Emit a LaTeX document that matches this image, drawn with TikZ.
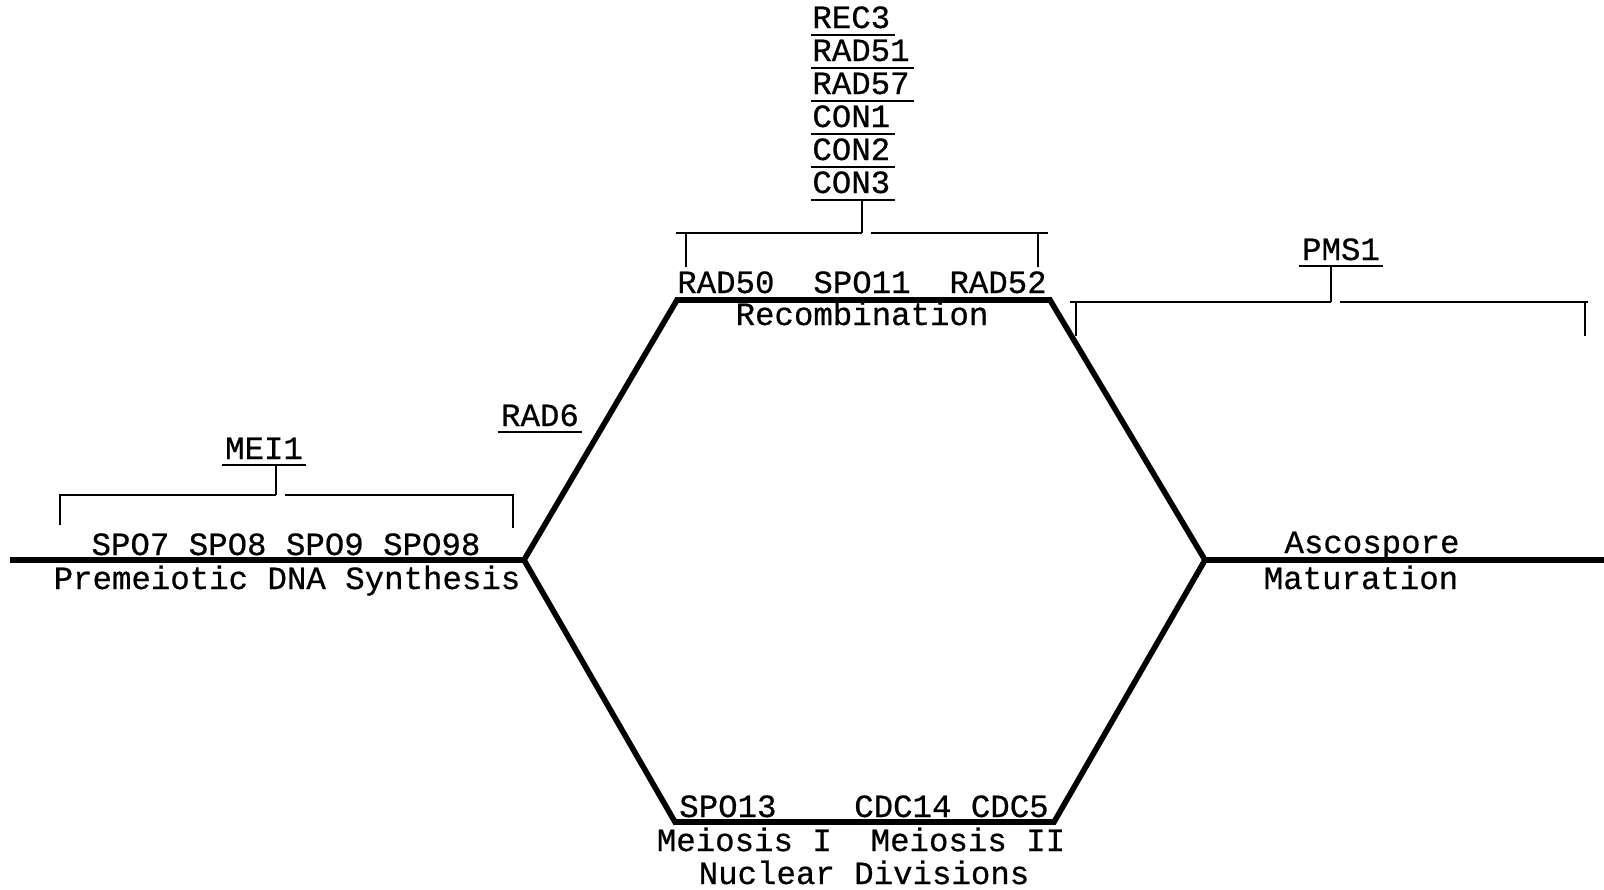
\documentclass[tikz,border=0pt]{standalone}
\usepackage{fontspec}
\setmainfont[FakeBold=0.6]{Liberation Mono}
\usetikzlibrary{calc}
\begin{document}
\begin{tikzpicture}[x=0.5pt,y=-0.5pt,
  lbl/.style={inner sep=0pt,anchor=base,font=\fontsize{16.2pt}{18pt}\selectfont},
  lblw/.style={lbl,anchor=base west},
  phase/.style={line width=2.8pt,line join=miter},
  brk/.style={line width=1.3pt},
  ul/.style={line width=1.1pt}]
\useasboundingbox (0,0) rectangle (1604,889);
% pathway
\coordinate (W) at (10,560);
\coordinate (L) at (524,560);
\coordinate (UL) at (677,300);
\coordinate (UR) at (1050,300);
\coordinate (R) at (1205,560);
\coordinate (E) at (1604,560);
\coordinate (LR) at (1054,822);
\coordinate (LL) at (675,822);
\draw[phase] (W) -- (L) -- (UL) -- (UR) -- (R) -- (E);
\draw[phase] (L) -- (LL) -- (LR) -- (R);
% left stage
\node[lbl] (spo7) at (286,555) {SPO7 SPO8 SPO9 SPO98};
\node[lbl] (premei) at (287,589) {Premeiotic DNA Synthesis};
\node[lbl] (mei1) at (264,459) {MEI1};
\draw[ul] ($(mei1.base west)+(-3,6)$) -- ($(mei1.base east)+(3,6)$);
\coordinate (m0) at (276,465);
\coordinate (m1) at (276,495);
\coordinate (mA) at (60,495);
\coordinate (mB) at (513,495);
\draw[brk] (m0) -- (m1);
\draw[brk] ($(mA)+(0,30)$) -- (mA) -- (m1);
\draw[brk] ($(m1)+(9,0)$) -- (mB) -- ($(mB)+(0,33)$);
% RAD6
\node[lbl] (rad6) at (540,426) {RAD6};
\draw[ul] ($(rad6.base west)+(-3,6)$) -- ($(rad6.base east)+(3,6)$);
% recombination stage
\node[lblw] (rec3) at (812,28) {REC3};
\node[lblw] (rad51) at (812,61) {RAD51};
\node[lblw] (rad57) at (812,94) {RAD57};
\node[lblw] (con1) at (812,127) {CON1};
\node[lblw] (con2) at (812,160) {CON2};
\node[lblw] (con3) at (812,193) {CON3};
\foreach \n in {rec3,rad51,rad57,con1,con2,con3}
  \draw[ul] ($(\n.base west)+(-1,7)$) -- ($(\n.base east)+(4,7)$);
\coordinate (r0) at (862,200);
\coordinate (r1) at (862,233);
\coordinate (rA) at (686,233);
\coordinate (rB) at (1038,233);
\draw[brk] (r0) -- (r1);
\draw[brk] ($(rA)+(0,34)$) -- (rA) -- ($(rA)+(-10,0)$);
\draw[brk] (rA) -- (r1);
\draw[brk] ($(r1)+(9,0)$) -- (rB) -- ($(rB)+(10,0)$);
\draw[brk] (rB) -- ($(rB)+(0,34)$);
\node[lbl] (rad50) at (862,293) {RAD50\ \ SPO11\ \ RAD52};
\node[lbl] (recomb) at (862,325) {Recombination};
% PMS1
\node[lbl] (pms1) at (1341,260) {PMS1};
\draw[ul] ($(pms1.base west)+(-3,6)$) -- ($(pms1.base east)+(3,6)$);
\coordinate (p0) at (1331,266);
\coordinate (p1) at (1331,302);
\coordinate (pA) at (1076,302);
\coordinate (pB) at (1585,302);
\draw[brk] (p0) -- (p1);
\draw[brk] ($(pA)+(0,34)$) -- (pA) -- ($(pA)+(-6,0)$);
\draw[brk] (pA) -- (p1);
\draw[brk] ($(p1)+(9,0)$) -- (pB) -- ($(pB)+(3,0)$);
\draw[brk] (pB) -- ($(pB)+(0,34)$);
% maturation
\node[lbl] (asco) at (1372,553) {Ascospore};
\node[lbl] (matur) at (1361,589) {Maturation};
% nuclear divisions
\node[lbl] (spo13) at (864,817) {SPO13\ \ \ \ CDC14 CDC5};
\node[lbl] (meio) at (861,851) {Meiosis I\ \ Meiosis II};
\node[lbl] (nucl) at (864,884) {Nuclear Divisions};
\end{tikzpicture}
\end{document}
